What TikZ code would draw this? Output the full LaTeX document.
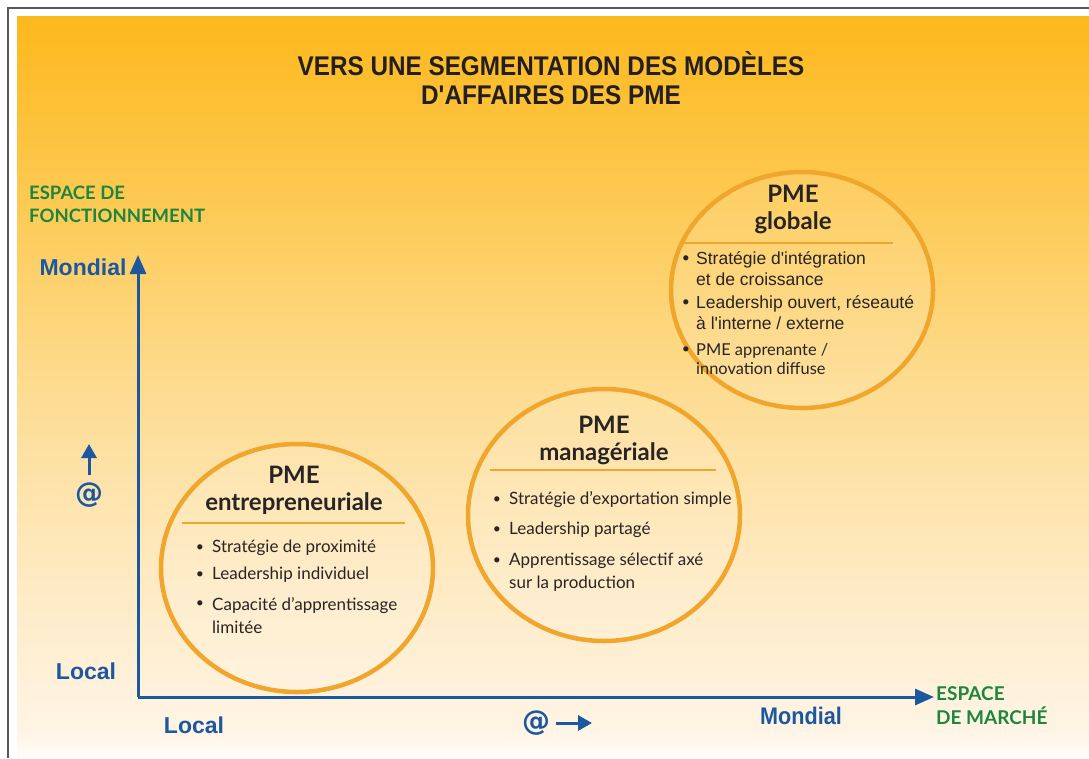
\documentclass[tikz,border=0pt]{standalone}
\usepackage{fontspec}
\setmainfont{Lato}
\newfontfamily\arialf{Liberation Sans}
\newfontfamily\dejaf{DejaVu Sans}
\newfontfamily\titlef[FakeStretch=0.9]{Liberation Sans}
\newfontfamily\narrowf[FakeStretch=0.9]{Liberation Sans}
\usetikzlibrary{arrows.meta,shapes.geometric}
\definecolor{bgA}{RGB}{253,184,28}
\definecolor{bgB}{RGB}{253,202,85}
\definecolor{bgC}{RGB}{253,220,145}
\definecolor{bgD}{RGB}{254,234,195}
\definecolor{bgE}{RGB}{255,244,228}
\definecolor{bgF}{RGB}{255,252,248}
\definecolor{ringC}{RGB}{240,166,44}
\definecolor{axisC}{RGB}{28,88,160}
\definecolor{greenC}{RGB}{28,134,62}
\definecolor{titleC}{RGB}{35,31,32}
\definecolor{textC}{RGB}{40,36,36}
\pgfdeclareverticalshading{bgshade}{100bp}{color(0bp)=(bgF); color(25bp)=(bgF); color(27bp)=(bgE); color(37bp)=(bgD); color(50bp)=(bgC); color(62bp)=(bgB); color(75bp)=(bgA); color(100bp)=(bgA)}
\tikzset{
  ring/.style={ellipse, draw=ringC, line width=4.5pt, fill=white, fill opacity=0.12, text opacity=1},
  sep/.style={draw=ringC, line width=1.8pt},
  axis/.style={draw=axisC, line width=3pt, -{Triangle[length=19pt,width=16pt]}},
  small arrow/.style={draw=axisC, line width=3pt, -{Triangle[length=14pt,width=15pt]}},
  head/.style={font=\bfseries\fontsize{24}{27}\selectfont, text=textC, align=center, inner sep=0pt},
  item/.style={font=\fontsize{17}{23}\selectfont, text=textC, anchor=west, align=left, inner sep=0pt},
  itemA/.style={font=\arialf\fontsize{17.5}{21}\selectfont, text=textC, anchor=west, align=left, inner sep=0pt},
  dot/.style={font=\fontsize{14}{16}\selectfont, text=textC, inner sep=0pt},
  bluelab/.style={font=\arialf\bfseries\fontsize{23}{26}\selectfont, text=axisC, inner sep=0pt},
  atlab/.style={font=\dejaf\bfseries\fontsize{28}{30}\selectfont, text=axisC, inner sep=0pt},
  greenlab/.style={font=\bfseries\fontsize{18.5}{23}\selectfont, text=greenC, align=left, inner sep=0pt, anchor=west},
}
\begin{document}
\begin{tikzpicture}[x=1pt,y=-1pt]
\useasboundingbox (0,0) rectangle (1089,758);
\fill[white] (0,0) rectangle (1089,758);
\shade[shading=bgshade] (17,16) rectangle (1089,758);
\draw[gray!70!black, line width=1.4pt] (8,758) -- (8,8) -- (1089,8);

% title
\node[font=\titlef\bfseries\fontsize{27}{29}\selectfont, text=titleC, align=center] (title) at (551,78) {VERS UNE SEGMENTATION DES MODÈLES\\D'AFFAIRES DES PME};

% axes
\coordinate (O) at (138,697);
\coordinate (ytop) at (138,255);
\coordinate (xend) at (934,697);
\draw[axis] (O) -- (ytop);
\draw[axis] (O) -- (xend);

\node[greenlab] (yname) at (29,204) {ESPACE DE\\FONCTIONNEMENT};
\node[bluelab] (ymond) at (83,267) {Mondial};
\node[bluelab] (yloc) at (86,671) {Local};
\node[atlab] (yat) at (89,495) {@};
\coordinate (yarB) at (89,475);
\coordinate (yarT) at (89,444);
\draw[small arrow] (yarB) -- (yarT);

\node[bluelab] (xloc) at (194,725) {Local};
\node[atlab] (xat) at (536,723) {@};
\coordinate (xarL) at (556,723);
\coordinate (xarR) at (592,723);
\draw[small arrow] (xarL) -- (xarR);
\node[bluelab, font=\narrowf\bfseries\fontsize{24}{26}\selectfont] (xmond) at (801,716) {Mondial};
\node[greenlab, font=\bfseries\fontsize{19}{24}\selectfont] (xname) at (936,706) {ESPACE\\DE MARCHÉ};

% circle 1
\node[ring, minimum width=272pt, minimum height=248pt] (c1) at (297,568) {};
\node[head] (h1) at (294,490) {PME\\entrepreneuriale};
\draw[sep] (182,523) -- (405,523);
\node[dot] (d11) at (200,548) {•};
\node[item] (t11) at (212,548) {Stratégie de proximité};
\node[dot] (d12) at (200,575) {•};
\node[item] (t12) at (212,575) {Leadership individuel};
\node[dot] (d13) at (200,604) {•};
\node[item] (t13) at (212,616) {Capacité d'apprentissage\\limitée};

% circle 2
\node[ring, minimum width=272pt, minimum height=252pt] (c2) at (604,515) {};
\node[head] (h2) at (604,440) {PME\\managériale};
\draw[sep] (490,470) -- (716,470);
\node[dot] (d21) at (497,500) {•};
\node[item] (t21) at (509,500) {Stratégie d'exportation simple};
\node[dot] (d22) at (497,530) {•};
\node[item] (t22) at (509,530) {Leadership partagé};
\node[dot] (d23) at (497,561) {•};
\node[item] (t23) at (509,572) {Apprentissage sélectif axé\\sur la production};

% circle 3
\node[ring, minimum width=262pt, minimum height=236pt] (c3) at (802,290) {};
\node[head] (h3) at (793,209) {PME\\globale};
\draw[sep] (681,243) -- (893,243);
\node[dot] (d31) at (686,259) {•};
\node[itemA] (t31) at (696,269) {Stratégie d'intégration\\et de croissance};
\node[dot] (d32) at (686,303) {•};
\node[itemA] (t32) at (696,313) {Leadership ouvert, réseauté\\à l'interne / externe};
\node[dot] (d33) at (686,350) {•};
\node[item, font=\fontsize{16.4}{19}\selectfont] (t33) at (696,359) {PME apprenante /\\innovation diffuse};
\end{tikzpicture}
\end{document}
